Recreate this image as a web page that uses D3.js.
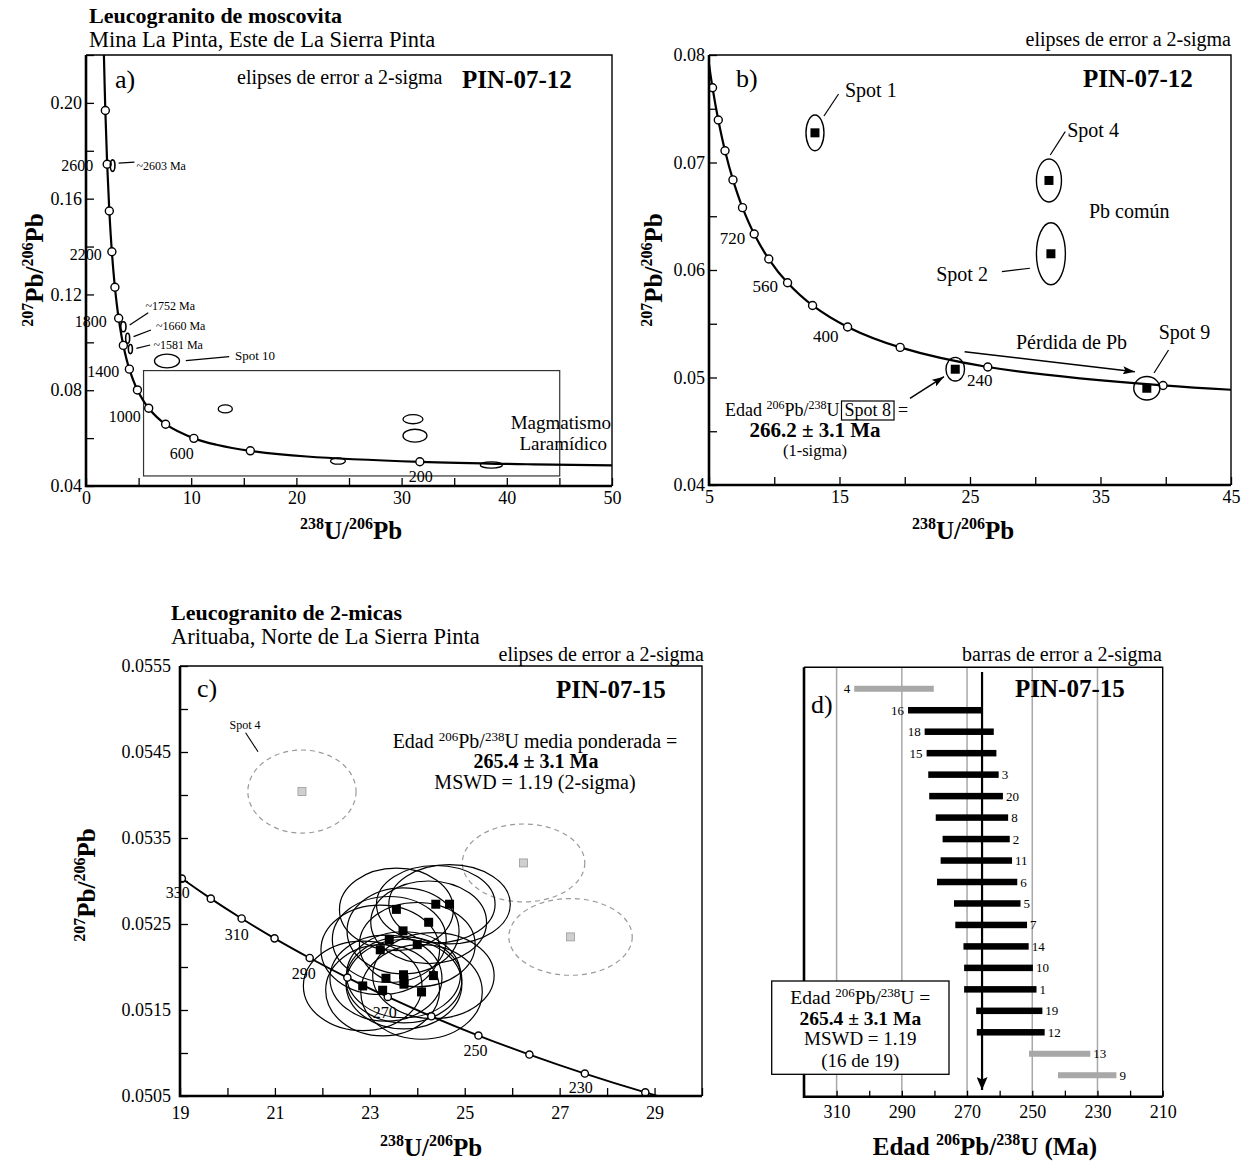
<!DOCTYPE html>
<html><head><meta charset="utf-8">
<script src="https://cdn.jsdelivr.net/npm/d3@7/dist/d3.min.js"></script>
<style>
html,body{margin:0;padding:0;background:#fff;}
</style></head><body>
<svg id="fig" width="1241" height="1164" xmlns="http://www.w3.org/2000/svg"></svg>
<script>
// ======================= DATA =======================
// ---- (a) PIN-07-12 overview: concordia points (age Ma, 238U/206Pb, 207Pb/206Pb)
const concA_age = [3000,2800,2600,2400,2200,2000,1800,1600,1400,1200,1000,800,600,500,400,300,200,150,100];
const concA_x   = [1.687,1.838,2.013,2.217,2.459,2.749,3.105,3.550,4.123,4.888,5.959,7.568,10.252,12.399,15.621,20.992,31.735,42.478,63.965];
const concA_y   = [0.22266,0.19682,0.17437,0.15483,0.13782,0.12299,0.11004,0.09872,0.08881,0.08012,0.07250,0.06580,0.05990,0.05722,0.05470,0.05233,0.05011,0.04905,0.04802];
const concA_marks  = [2800,2600,2400,2200,2000,1800,1600,1400,1200,1000,800,600,400,200];
const concA_labels = ["2600","2200","1800","1400","1000","600","200"];
// analyses (ellipse centre and 2-sigma half axes)
const spotsA_label = ["~2603 Ma","~1752 Ma","~1660 Ma","~1581 Ma","Spot 10","","","","",""];
const spotsA_x  = [2.53,3.55,3.96,4.22,7.70,13.24,31.08,31.27,23.95,38.53];
const spotsA_y  = [0.1738,0.1065,0.1017,0.0972,0.0922,0.0722,0.0679,0.0610,0.0504,0.0488];
const spotsA_sx = [0.22,0.25,0.19,0.19,1.19,0.67,0.95,1.14,0.71,1.05];
const spotsA_sy = [0.0024,0.0021,0.0021,0.0019,0.0029,0.0017,0.0019,0.0027,0.0013,0.0013];
const ticksA_x = [0,5,10,15,20,25,30,35,40,45,50];
const labelsA_x = ["0","","10","","20","","30","","40","","50"];
const ticksA_y = [0.04,0.06,0.08,0.10,0.12,0.14,0.16,0.18,0.20,0.22];
const labelsA_y = ["0.04","","0.08","","0.12","","0.16","","0.20",""];

// ---- (b) PIN-07-12 detail
const concB_age = [1200,1120,1040,960,880,800,720,640,560,480,400,320,240,160,120];
const concB_x   = [4.888,5.270,5.712,6.227,6.837,7.568,8.463,9.581,11.019,12.936,15.621,19.649,26.363,39.792,53.222];
const concB_y   = [0.08012,0.07695,0.07395,0.07109,0.06838,0.06580,0.06335,0.06102,0.05881,0.05670,0.05470,0.05280,0.05098,0.04926,0.04842];
const concB_marks  = [1120,1040,960,880,800,720,640,560,480,400,320,240,160];
const concB_labels = ["720","560","400","240"];
const spotsB_name = ["Spot 1","Spot 4","Spot 2","Spot 8","Spot 9"];
const spotsB_x  = [13.12,31.05,31.20,23.87,38.55];
const spotsB_y  = [0.07276,0.06833,0.06151,0.05077,0.04900];
const spotsB_sx = [0.69,0.96,1.11,0.71,1.00];
const spotsB_sy = [0.00166,0.00200,0.00288,0.00110,0.00109];
const ticksB_x = [5,10,15,20,25,30,35,40,45];
const labelsB_x = ["5","","15","","25","","35","","45"];
const ticksB_y = [0.04,0.045,0.05,0.055,0.06,0.065,0.07,0.075,0.08];
const labelsB_y = ["0.04","","0.05","","0.06","","0.07","","0.08"];

// ---- (c) PIN-07-15
const concC_age = [340,330,320,310,300,290,280,270,260,250,240,230,220,210];
const concC_x   = [18.464,19.039,19.649,20.299,20.992,21.733,22.527,23.379,24.297,25.289,26.363,27.531,28.805,30.200];
const concC_y   = [0.053263,0.053028,0.052795,0.052564,0.052333,0.052105,0.051877,0.051652,0.051427,0.051203,0.050982,0.050761,0.050542,0.050325];
const concC_marks  = [330,320,310,300,290,280,270,260,250,240,230,220];
const concC_labels = ["330","310","290","270","250","230"];
const spotsC_x  = [23.56,24.39,24.68,24.24,23.70,23.41,24.00,23.22,23.34,23.71,23.72,24.34,22.85,23.27,24.09,23.72];
const spotsC_y  = [0.05267,0.05273,0.05273,0.05252,0.05242,0.05232,0.05226,0.05220,0.05187,0.05191,0.05180,0.05190,0.05178,0.05173,0.05171,0.05185];
const spotsC_sx = [1.20,1.25,1.28,1.22,1.18,1.20,1.22,1.25,1.18,1.20,1.22,1.28,1.25,1.20,1.28,1.22];
const spotsC_sy = [0.00048,0.00045,0.00046,0.00048,0.00050,0.00050,0.00049,0.00052,0.00050,0.00050,0.00052,0.00050,0.00052,0.00053,0.00055,0.00050];
const rejectC_name = ["Spot 4","",""];
const rejectC_x  = [21.57,26.24,27.23];
const rejectC_y  = [0.05404,0.05321,0.05235];
const rejectC_sx = [1.14,1.29,1.30];
const rejectC_sy = [0.000483,0.000453,0.000446];
const ticksC_x = [19,20,21,22,23,24,25,26,27,28,29,30];
const labelsC_x = ["19","","21","","23","","25","","27","","29",""];
const ticksC_y = [0.0505,0.051,0.0515,0.052,0.0525,0.053,0.0535,0.054,0.0545,0.055,0.0555];
const labelsC_y = ["0.0505","","0.0515","","0.0525","","0.0535","","0.0545","","0.0555"];

// ---- (d) 206Pb/238U ages (Ma) with 2-sigma errors
const ageSpot = ["4","16","18","15","3","20","8","2","11","6","5","7","14","10","1","19","12","13","9"];
const ageMean = [292.4,276.75,272.4,271.7,271.1,270.3,268.5,267.2,267.15,266.9,263.8,262.6,261.1,260.35,259.8,257.05,256.6,241.6,233.15];
const ageErr  = [12.2,11.35,10.6,10.7,10.8,11.3,11.1,10.3,10.95,12.3,10.2,11.0,10.0,10.55,11.1,10.15,10.4,9.4,8.95];
const ageRejected = ["4","13","9"];
const ageLabelLeft = ["4","16","18","15"];
const weightedMean = 265.4;
const ticksD_x = [320,310,300,290,280,270,260,250,240,230,220,210];
const labelsD_x = ["","310","","290","","270","","250","","230","","210"];
const gridD_x = [310,290,270,250,230];

// ======================= DRAWING =======================
const FONT = '"Liberation Serif","Times New Roman",Times,serif';
const svg = d3.select("#fig");
svg.append("rect").attr("width",1241).attr("height",1164).attr("fill","#fff");
const defs = svg.append("defs");
function arrowMarker(id,len,wid){
  defs.append("marker").attr("id",id).attr("viewBox",`0 0 ${len} ${wid}`)
    .attr("refX",len).attr("refY",wid/2).attr("markerWidth",len).attr("markerHeight",wid)
    .attr("markerUnits","userSpaceOnUse").attr("orient","auto")
    .append("path").attr("d",`M0,0L${len},${wid/2}L0,${wid}L${len*0.2},${wid/2}Z`).attr("fill","#000");
}
arrowMarker("arrS",12,8);
arrowMarker("arrL",13,11);

function txt(g,x,y,s,o={}){
  const t=g.append("text").attr("x",x).attr("y",y).attr("font-family",FONT)
    .attr("font-size",o.size||20).attr("font-weight",o.bold?"bold":"normal")
    .attr("text-anchor",o.anchor||"start").attr("fill",o.fill||"#000").text(s);
  if(o.transform) t.attr("transform",o.transform);
  return t;
}
function rich(g,x,y,parts,o={}){
  const size=o.size||20, sup=o.sup||Math.round(size*0.65), rise=o.rise||Math.round(size*0.38);
  const t=g.append("text").attr("x",x).attr("y",y).attr("font-family",FONT)
    .attr("font-size",size).attr("font-weight",o.bold?"bold":"normal")
    .attr("text-anchor",o.anchor||"start").attr("fill","#000");
  if(o.transform) t.attr("transform",o.transform);
  let up=false;
  parts.forEach(p=>{
    const s=p[0]==="^";
    const ts=t.append("tspan").text(s?p.slice(1):p);
    if(s){ ts.attr("font-size",sup); if(!up){ ts.attr("dy",-rise); up=true; } }
    else if(up){ ts.attr("dy",rise); up=false; }
  });
  return t;
}
function makePanel(id,b,xd,yd){
  const xs=d3.scaleLinear().domain(xd).range([b.x0,b.x1]);
  const ys=d3.scaleLinear().domain(yd).range([b.y1,b.y0]);
  const g=svg.append("g").attr("id","panel-"+id);
  defs.append("clipPath").attr("id","clip"+id).append("rect")
    .attr("x",b.x0).attr("y",b.y0).attr("width",b.x1-b.x0).attr("height",b.y1-b.y0);
  const plot=g.append("g").attr("clip-path",`url(#clip${id})`);
  return {xs,ys,g,plot,b};
}
function drawAxes(P,o){
  const {xs,ys,g,b}=P;
  if(o.xTicks){
    const ax=g.append("g").attr("transform",`translate(0,${b.y1})`)
      .call(d3.axisBottom(xs).tickValues(o.xTicks).tickFormat((d,i)=>o.xLabels[i])
        .tickSizeInner(-o.tick).tickSizeOuter(0).tickPadding(o.xpad));
    ax.select(".domain").remove();
    ax.attr("font-family",FONT).attr("font-size",o.fs);
    ax.selectAll("line").attr("stroke-width",1.3);
  }
  if(o.yTicks){
    const ay=g.append("g").attr("transform",`translate(${b.x0},0)`)
      .call(d3.axisLeft(ys).tickValues(o.yTicks).tickFormat((d,i)=>o.yLabels[i])
        .tickSizeInner(-o.tick).tickSizeOuter(0).tickPadding(o.ypad));
    ay.select(".domain").remove();
    ay.attr("font-family",FONT).attr("font-size",o.fs);
    ay.selectAll("line").attr("stroke-width",1.3);
  }
  g.append("path").attr("d",`M${b.x0},${b.y0}H${b.x1}V${b.y1}`).attr("fill","none").attr("stroke","#000").attr("stroke-width",1.4);
  g.append("path").attr("d",`M${b.x0},${b.y0}V${b.y1}H${b.x1}`).attr("fill","none").attr("stroke","#000").attr("stroke-width",2.6);
}
function concordia(P,X,Y,ages,marks,labels,offs,r,sw,fs){
  const pts=X.map((x,i)=>[P.xs(x),P.ys(Y[i])]);
  P.plot.append("path").attr("d",d3.line().curve(d3.curveCatmullRom.alpha(0.5))(pts))
    .attr("fill","none").attr("stroke","#000").attr("stroke-width",sw);
  ages.forEach((a,i)=>{
    if(marks.includes(a)) P.plot.append("circle").attr("cx",pts[i][0]).attr("cy",pts[i][1]).attr("r",r)
      .attr("fill","#fff").attr("stroke","#000").attr("stroke-width",1.4);
  });
  labels.forEach(l=>{
    const i=ages.indexOf(+l); const o=offs[l];
    txt(P.g,pts[i][0]+o[0],pts[i][1]+o[1],l,{size:fs,anchor:o[2]});
  });
}
function ellipse(P,x,y,sx,sy,o={}){
  return P.plot.append("ellipse").attr("cx",P.xs(x)).attr("cy",P.ys(y))
    .attr("rx",Math.abs(P.xs(x+sx)-P.xs(x))).attr("ry",Math.abs(P.ys(y+sy)-P.ys(y)))
    .attr("fill","none").attr("stroke",o.stroke||"#000").attr("stroke-width",o.sw||1.3)
    .attr("stroke-dasharray",o.dash||null);
}
function square(P,x,y,s,fill,stroke){
  P.plot.append("rect").attr("x",P.xs(x)-s/2).attr("y",P.ys(y)-s/2).attr("width",s).attr("height",s)
    .attr("fill",fill).attr("stroke",stroke||"none").attr("stroke-width",0.8);
}
function seg(g,x1,y1,x2,y2,sw,marker){
  const l=g.append("line").attr("x1",x1).attr("y1",y1).attr("x2",x2).attr("y2",y2)
    .attr("stroke","#000").attr("stroke-width",sw||1.2);
  if(marker) l.attr("marker-end",`url(#${marker})`);
  return l;
}
const XT=["^238","U/","^206","Pb"], YT=["^207","Pb/","^206","Pb"];

// ======== PANEL A ========
const A=makePanel("a",{x0:86,x1:612,y0:55,y1:486},[0,50],[0.04,0.22]);
txt(A.g,89,23,"Leucogranito de moscovita",{size:22,bold:true});
txt(A.g,89,47,"Mina La Pinta, Este de La Sierra Pinta",{size:22.5});
// Laramide box
A.plot.append("rect").attr("x",A.xs(5.47)).attr("y",A.ys(0.0882))
  .attr("width",A.xs(45.03)-A.xs(5.47)).attr("height",A.ys(0.0442)-A.ys(0.0882))
  .attr("fill","none").attr("stroke","#333").attr("stroke-width",1.2);
concordia(A,concA_x,concA_y,concA_age,concA_marks,concA_labels,
  {"2600":[-14,7,"end"],"2200":[-10,8,"end"],"1800":[-12,9,"end"],"1400":[-10,8,"end"],
   "1000":[-8,14,"end"],"600":[-12,21,"middle"],"200":[1,20,"middle"]},4,2.2,16);
const annA=[[6,-2.4,21.8,-3.4,23.8,4.3],[6.3,-1.7,24.9,-14,22.2,-16.7],[5.9,-1.6,23.3,-8.3,28.3,-8.3],[6,-0.7,19.8,-4,23,0],[18.8,-0.3,62.2,-4.3,68,-1]];
spotsA_x.forEach((x,i)=>{
  ellipse(A,x,spotsA_y[i],spotsA_sx[i],spotsA_sy[i],{sw:i<4?1.6:1.3});
  if(spotsA_label[i]){
    const cx=A.xs(x), cy=A.ys(spotsA_y[i]), a=annA[i];
    seg(A.g,cx+a[0],cy+a[1],cx+a[2],cy+a[3],1.2);
    txt(A.g,cx+a[4],cy+a[5],spotsA_label[i],{size:i<4?12:13});
  }
});
txt(A.g,611,428.5,"Magmatismo",{size:19,anchor:"end"});
txt(A.g,607,449.5,"Laramídico",{size:19,anchor:"end"});
txt(A.g,115,88,"a)",{size:26});
txt(A.g,237,84,"elipses de error a 2-sigma",{size:20});
txt(A.g,462,88,"PIN-07-12",{size:25,bold:true});
drawAxes(A,{xTicks:ticksA_x,xLabels:labelsA_x,yTicks:ticksA_y,yLabels:labelsA_y,tick:8,xpad:5,ypad:4,fs:18});
rich(A.g,351,539,XT,{size:25,bold:true,sup:16,anchor:"middle"});
rich(A.g,0,0,YT,{size:25,bold:true,sup:16,anchor:"middle",transform:"translate(43,270) rotate(-90)"});

// ======== PANEL B ========
const B=makePanel("b",{x0:709,x1:1231,y0:55,y1:485},[5,45],[0.04,0.08]);
concordia(B,concB_x,concB_y,concB_age,concB_marks,concB_labels,
  {"720":[-9,10,"end"],"560":[-9.5,9,"end"],"400":[-9,15,"end"],"240":[-8,19,"middle"]},4,2.2,17);
spotsB_x.forEach((x,i)=>{
  ellipse(B,x,spotsB_y[i],spotsB_sx[i],spotsB_sy[i],{sw:1.4});
  square(B,x,spotsB_y[i],9,"#000");
});
const annB={"Spot 1":[9,-16.8,23.6,-38.8,30,-35.8,"start"],"Spot 4":[1.3,-25.5,16.3,-48.8,18.3,-43.5,"start"],
  "Spot 2":[-21,14.5,-49,17.9,-63,27.2,"end"],"Spot 9":[7.2,-15.3,21.7,-38.3,11.8,-49.3,"start"]};
spotsB_name.forEach((n,i)=>{
  const a=annB[n]; if(!a) return;
  const cx=B.xs(spotsB_x[i]), cy=B.ys(spotsB_y[i]);
  seg(B.g,cx+a[0],cy+a[1],cx+a[2],cy+a[3],1.2);
  txt(B.g,cx+a[4],cy+a[5],n,{size:20,anchor:a[6]});
});
txt(B.g,1089,218,"Pb común",{size:20});
// Pb loss arrow
seg(B.g,964.6,351.7,1134.9,371.7,1.5,"arrS");
txt(B.g,1016,349,"Pérdida de Pb",{size:20});
// Spot 8 annotation
seg(B.g,910,398.3,944,376.7,1.5,"arrS");
const e8=rich(B.g,725,416,["Edad ","^206","Pb/","^238","U"],{size:18,sup:12,rise:7});
const w8=e8.node().getComputedTextLength();
const s8=txt(B.g,725+w8+5,416,"Spot 8",{size:18});
const ws8=s8.node().getComputedTextLength();
B.g.append("rect").attr("x",725+w8+2).attr("y",401).attr("width",ws8+6).attr("height",19)
  .attr("fill","none").attr("stroke","#000").attr("stroke-width",1.2);
txt(B.g,725+w8+ws8+12,416,"=",{size:18});
txt(B.g,815,437,"266.2 ± 3.1 Ma",{size:21,bold:true,anchor:"middle"});
txt(B.g,815,456,"(1-sigma)",{size:16.5,anchor:"middle"});
txt(B.g,736,87,"b)",{size:26});
txt(B.g,1083,87,"PIN-07-12",{size:25,bold:true});
txt(B.g,1231,46,"elipses de error a 2-sigma",{size:20,anchor:"end"});
drawAxes(B,{xTicks:ticksB_x,xLabels:labelsB_x,yTicks:ticksB_y,yLabels:labelsB_y,tick:8,xpad:5,ypad:4,fs:18});
rich(B.g,963,539,XT,{size:25,bold:true,sup:16,anchor:"middle"});
rich(B.g,0,0,YT,{size:25,bold:true,sup:16,anchor:"middle",transform:"translate(662,270) rotate(-90)"});

// ======== PANEL C ========
const C=makePanel("c",{x0:180,x1:702,y0:666,y1:1096},[19,30],[0.0505,0.0555]);
txt(C.g,171,620,"Leucogranito de 2-micas",{size:22,bold:true});
txt(C.g,171,644,"Arituaba, Norte de La Sierra Pinta",{size:22.5});
txt(C.g,704,661,"elipses de error a 2-sigma",{size:20,anchor:"end"});
rejectC_x.forEach((x,i)=>{
  ellipse(C,x,rejectC_y[i],rejectC_sx[i],rejectC_sy[i],{stroke:"#9a9a9a",sw:1.2,dash:"5,4"});
  square(C,x,rejectC_y[i],8,"#cfcfcf","#9a9a9a");
});
spotsC_x.forEach((x,i)=>ellipse(C,x,spotsC_y[i],spotsC_sx[i],spotsC_sy[i],{sw:1.2}));
concordia(C,concC_x,concC_y,concC_age,concC_marks,concC_labels,
  {"330":[-4,19,"middle"],"310":[-5,22,"middle"],"290":[-6,21,"middle"],"270":[-3,21,"middle"],"250":[-3,20.5,"middle"],"230":[-4,19,"middle"]},3.6,1.9,16);
spotsC_x.forEach((x,i)=>square(C,x,spotsC_y[i],9,"#000"));
seg(C.g,245.6,732.7,258,751.7,1.1);
txt(C.g,229.6,729,rejectC_name[0],{size:12});
rich(C.g,535,748,["Edad ","^206","Pb/","^238","U media ponderada ="],{size:20,sup:13,rise:7,anchor:"middle"});
txt(C.g,536,768,"265.4 ± 3.1 Ma",{size:20,bold:true,anchor:"middle"});
txt(C.g,535,789,"MSWD = 1.19 (2-sigma)",{size:20,anchor:"middle"});
txt(C.g,197,697,"c)",{size:26});
txt(C.g,556,698,"PIN-07-15",{size:25,bold:true});
drawAxes(C,{xTicks:ticksC_x,xLabels:labelsC_x,yTicks:ticksC_y,yLabels:labelsC_y,tick:8,xpad:10,ypad:9,fs:18});
rich(C.g,431,1156,XT,{size:25,bold:true,sup:16,anchor:"middle"});
rich(C.g,0,0,YT,{size:25,bold:true,sup:16,anchor:"middle",transform:"translate(95,885) rotate(-90)"});

// ======== PANEL D ========
const D=makePanel("d",{x0:804,x1:1162.7,y0:667.3,y1:1096.7},[320,210],[0,1]);
const yD=d3.scalePoint().domain(ageSpot).range([667.3,1096.7]).padding(1);
gridD_x.forEach(v=>D.g.append("line").attr("x1",D.xs(v)).attr("x2",D.xs(v)).attr("y1",667.3).attr("y2",1096.7)
  .attr("stroke","#a8a8a8").attr("stroke-width",1.5));
ageSpot.forEach((s,i)=>{
  const rej=ageRejected.includes(s);
  const xl=D.xs(ageMean[i]+ageErr[i]), xr=D.xs(ageMean[i]-ageErr[i]), y=yD(s);
  const h=rej?6:6.5;
  D.g.append("rect").attr("x",xl).attr("y",y-h/2).attr("width",xr-xl).attr("height",h)
    .attr("fill",rej?"#a8a8a8":"#000");
  if(ageLabelLeft.includes(s)) txt(D.g,xl-4,y+4.5,s,{size:13,anchor:"end"});
  else txt(D.g,xr+3,y+4.5,s,{size:13});
});
seg(D.g,D.xs(weightedMean),672,D.xs(weightedMean),1090,2.2,"arrL");
txt(D.g,811,713,"d)",{size:26});
txt(D.g,1015,696.5,"PIN-07-15",{size:25,bold:true});
txt(D.g,1162,661,"barras de error a 2-sigma",{size:20,anchor:"end"});
drawAxes(D,{xTicks:ticksD_x,xLabels:labelsD_x,tick:6,xpad:9,fs:18});
// summary box drawn over the axis, as in the reference
D.g.append("rect").attr("x",771.7).attr("y",981).attr("width",177.3).attr("height",93.3)
  .attr("fill","#fff").attr("stroke","#000").attr("stroke-width",1.3);
rich(D.g,860.3,1004,["Edad ","^206","Pb/","^238","U ="],{size:19.5,sup:13,rise:7,anchor:"middle"});
txt(D.g,860.3,1025,"265.4 ± 3.1 Ma",{size:19.5,bold:true,anchor:"middle"});
txt(D.g,860.3,1045,"MSWD = 1.19",{size:19,anchor:"middle"});
txt(D.g,860.3,1066.5,"(16 de 19)",{size:19,anchor:"middle"});
rich(D.g,985,1155,["Edad ","^206","Pb/","^238","U (Ma)"],{size:25,bold:true,sup:16,anchor:"middle"});
</script>
</body></html>
